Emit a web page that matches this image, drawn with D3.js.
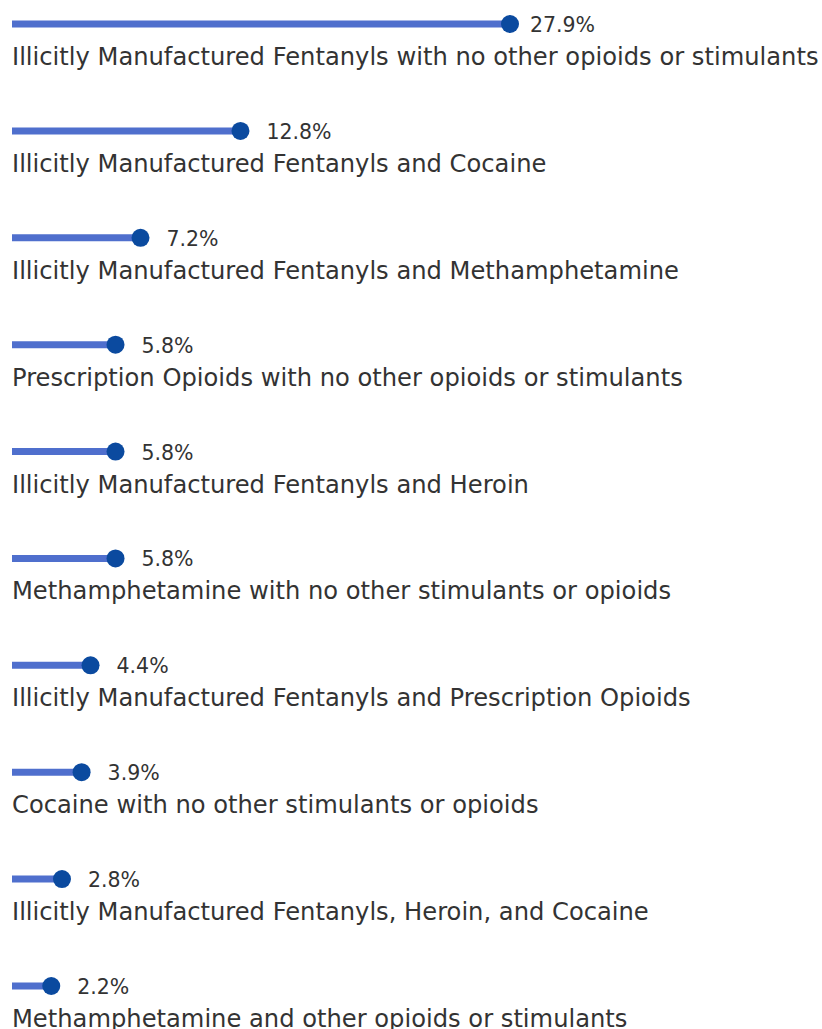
<!DOCTYPE html>
<html>
<head>
<meta charset="utf-8">
<script src="https://cdn.jsdelivr.net/npm/d3@7"></script>
<style>
  body { margin: 0; background: #fff; }
  text { font-family: "DejaVu Sans", sans-serif; fill: #333; }
</style>
</head>
<body>
<script>
// drug combinations, share of overdose deaths
var categories = [
  "Illicitly Manufactured Fentanyls with no other opioids or stimulants",
  "Illicitly Manufactured Fentanyls and Cocaine",
  "Illicitly Manufactured Fentanyls and Methamphetamine",
  "Prescription Opioids with no other opioids or stimulants",
  "Illicitly Manufactured Fentanyls and Heroin",
  "Methamphetamine with no other stimulants or opioids",
  "Illicitly Manufactured Fentanyls and Prescription Opioids",
  "Cocaine with no other stimulants or opioids",
  "Illicitly Manufactured Fentanyls, Heroin, and Cocaine",
  "Methamphetamine and other opioids or stimulants"
];
var values = [27.9, 12.8, 7.2, 5.8, 5.8, 5.8, 4.4, 3.9, 2.8, 2.2];

var width = 822, height = 1029;
var lineColor = "#4f6fcd", dotColor = "#0b4a9f";

var svg = d3.select("body").append("svg")
  .attr("width", width)
  .attr("height", height);

var x = d3.scaleLinear()
  .domain([0, d3.max(values)])
  .range([12, 510]);

var y = d3.scalePoint()
  .domain(categories)
  .range([24, 986]);

var data = categories.map(function(c, i) { return {name: c, value: values[i]}; });

var rows = svg.selectAll("g.row")
  .data(data)
  .enter().append("g")
  .attr("class", "row")
  .attr("transform", function(d) { return "translate(0," + y(d.name) + ")"; });

rows.append("line")
  .attr("x1", x(0))
  .attr("x2", function(d) { return x(d.value); })
  .attr("y1", 0)
  .attr("y2", 0)
  .attr("stroke", lineColor)
  .attr("stroke-width", 7);

rows.append("circle")
  .attr("cx", function(d) { return x(d.value); })
  .attr("cy", 0)
  .attr("r", 9)
  .attr("fill", dotColor);

rows.append("text")
  .attr("class", "value")
  .attr("y", 8)
  .attr("font-size", "20.5px")
  .text(function(d) { return d.value.toFixed(1) + "%"; })
  .attr("x", function(d) {
    // keep the value text inside the plot width
    var w = this.getComputedTextLength();
    return Math.min(x(d.value) + 26, 595 - w);
  });

rows.append("text")
  .attr("class", "label")
  .attr("x", 12)
  .attr("y", 41)
  .attr("font-size", "24.2px")
  .text(function(d) { return d.name; });
</script>
</body>
</html>
